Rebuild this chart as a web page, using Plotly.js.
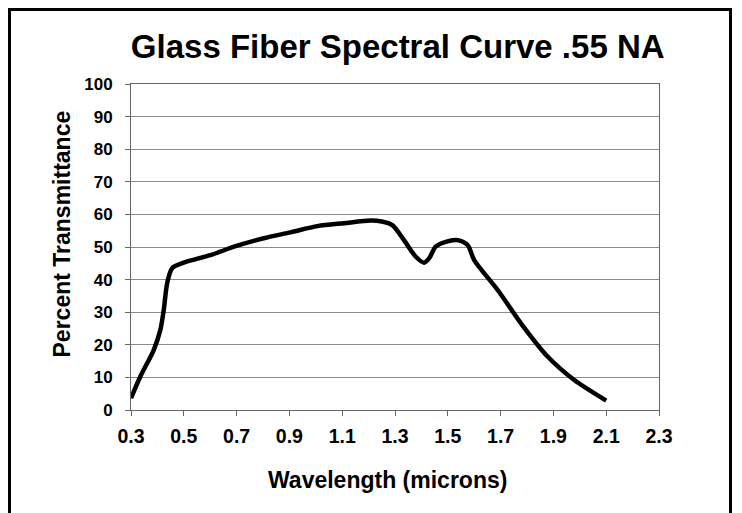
<!DOCTYPE html>
<html><head><meta charset="utf-8">
<script src="https://cdn.plot.ly/plotly-3.0.1.min.js"></script>
<style>
body{margin:0;padding:0;background:#fff;}
#wrap{position:relative;width:742px;height:513px;overflow:hidden;}
#chart{width:742px;height:513px;}
#frame{position:absolute;left:8px;top:8px;width:724px;height:520px;border:3px solid #000;box-sizing:border-box;pointer-events:none;}
</style></head>
<body>
<div id="wrap"><div id="chart"></div><div id="frame"></div></div>
<script>
const wavelength = [0.3, 0.335, 0.386, 0.411, 0.424, 0.437, 0.456, 0.5, 0.6, 0.702, 0.803, 0.904, 1.006, 1.107, 1.208, 1.25, 1.29, 1.334, 1.379, 1.41, 1.429, 1.454, 1.492, 1.537, 1.575, 1.6, 1.689, 1.777, 1.878, 1.979, 2.1];
const transmittance = [3.6, 10.2, 18.4, 24.5, 30.7, 38.9, 43.5, 45.2, 47.5, 50.4, 52.7, 54.5, 56.4, 57.3, 58.1, 57.8, 56.7, 52.1, 47.0, 45.2, 46.5, 50.1, 51.6, 52.1, 50.6, 46.0, 36.8, 26.6, 16.4, 9.2, 2.9];
const xTicks = [0.3, 0.5, 0.7, 0.9, 1.1, 1.3, 1.5, 1.7, 1.9, 2.1, 2.3];
const xTickText = ["0.3","0.5","0.7","0.9","1.1","1.3","1.5","1.7","1.9","2.1","2.3"];
const yTicks = [0,10,20,30,40,50,60,70,80,90,100];
const xTitle = 'Wavelength (microns)';
const yTitle = 'Percent Transmittance';
const chartTitle = 'Glass Fiber Spectral Curve .55 NA';

const F = "Liberation Sans, Arial, sans-serif";
Plotly.newPlot('chart', [{
  x: wavelength, y: transmittance, type: 'scatter', mode: 'lines',
  line: {color: '#000', width: 4.5, shape: 'spline', smoothing: 0.8},
  hoverinfo: 'skip'
}], {
  width: 742, height: 513,
  margin: {l: 131, r: 83, t: 84, b: 103},
  paper_bgcolor: '#fff', plot_bgcolor: '#fff',
  showlegend: false,
  title: {text: chartTitle, font: {family: F, size: 33, color: '#000', weight: 700}, x: 0.536, xanchor: 'center', y: 0.909, yanchor: 'middle'},
  xaxis: {
    range: [0.3, 2.3], tickmode: 'array', tickvals: xTicks, ticktext: xTickText,
    ticks: 'outside', ticklen: 5, tickcolor: '#666', tickwidth: 1,
    ticklabelstandoff: 4,
    showline: true, linecolor: '#666', linewidth: 1, mirror: true,
    showgrid: false, zeroline: false,
    tickfont: {family: F, size: 19.5, color: '#000', weight: 700}
  },
  yaxis: {
    range: [0, 100], tickmode: 'array', tickvals: yTicks,
    ticks: 'outside', ticklen: 5, tickcolor: '#666', tickwidth: 1,
    ticklabelstandoff: 9,
    showline: true, linecolor: '#666', linewidth: 1, mirror: true,
    showgrid: true, gridcolor: '#8a8a8a', gridwidth: 1, zeroline: false,
    tickfont: {family: F, size: 17, color: '#000', weight: 700}
  },
  annotations: [
    {text: xTitle, xref: 'paper', yref: 'paper', x: 0.4867, y: -0.2147, xanchor: 'center', yanchor: 'middle', showarrow: false,
     font: {family: F, size: 23, color: '#000', weight: 700}},
    {text: yTitle, xref: 'paper', yref: 'paper', x: -0.1316, y: 0.54, xanchor: 'center', yanchor: 'middle', textangle: -90, showarrow: false,
     font: {family: F, size: 23, color: '#000', weight: 700}}
  ]
}, {staticPlot: true, displayModeBar: false});
</script>
</body></html>
